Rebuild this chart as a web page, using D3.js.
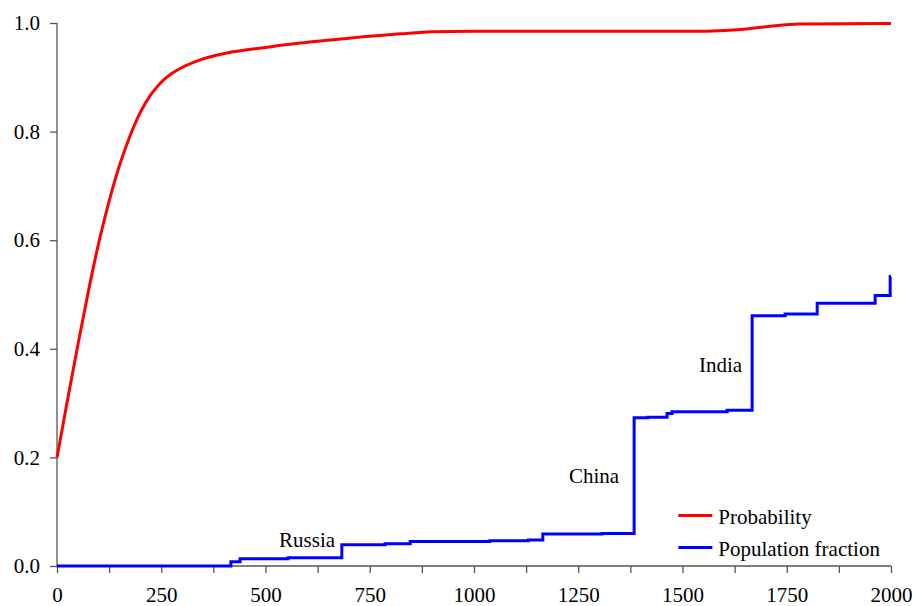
<!DOCTYPE html>
<html>
<head>
<meta charset="utf-8">
<script src="https://cdn.jsdelivr.net/npm/d3@7"></script>
<style>
  body { margin: 0; background: #fff; }
</style>
</head>
<body>
<div class="chart"></div>
<script>
// red curve: probability vs year
var probYears = [0, 25, 50, 75, 100, 125, 150, 175, 200, 225, 250, 275, 300, 343, 422, 500, 583, 700, 823, 900, 1000, 1560, 1620, 1700, 1780, 2000];
var probValues = [0.2, 0.305, 0.407, 0.505, 0.595, 0.672, 0.738, 0.792, 0.836, 0.868, 0.891, 0.907, 0.918, 0.932, 0.947, 0.955, 0.963, 0.972, 0.980, 0.984, 0.985, 0.985, 0.987, 0.993, 0.998, 0.999];

// blue step line: population fraction
var popYears = [0, 417, 439, 554, 683, 787, 847, 1038, 1130, 1165, 1307, 1384, 1417, 1463, 1475, 1607, 1667, 1746, 1823, 1962, 1998, 2000];
var popValues = [0, 0.008, 0.0135, 0.015, 0.039, 0.041, 0.045, 0.0465, 0.048, 0.059, 0.060, 0.273, 0.274, 0.281, 0.284, 0.287, 0.461, 0.464, 0.484, 0.498, 0.533, 0.533];

var xTicks = [0, 125, 250, 375, 500, 625, 750, 875, 1000, 1125, 1250, 1375, 1500, 1625, 1750, 1875, 2000];
var xTickLabels = [0, 250, 500, 750, 1000, 1250, 1500, 1750, 2000];
var yTicks = [0, 0.2, 0.4, 0.6, 0.8, 1.0];

var countryNames = ["Russia", "China", "India"];
var countryYears = [667, 1348, 1643];
var countryValues = [0.035, 0.153, 0.358];

var seriesNames = ["Probability", "Population fraction"];
var seriesColors = ["#ff0000", "#0000ff"];

var fontFamily = '"Liberation Serif", "Times New Roman", serif';

var svgWidth = 914;
var svgHeight = 606;
var margin = { top: 23, right: 23, bottom: 40, left: 57 };
var width = svgWidth - margin.left - margin.right;
var height = svgHeight - margin.top - margin.bottom;

var svg = d3.select(".chart")
    .append("svg")
    .attr("width", svgWidth)
    .attr("height", svgHeight);

var chartGroup = svg.append("g")
    .attr("transform", `translate(${margin.left}, ${margin.top})`);

// scales
var xScale = d3.scaleLinear().domain([0, 2000]).range([0, width]);
var yScale = d3.scaleLinear().domain([0, 1]).range([height, 0]);

// axes
var xAxis = d3.axisBottom(xScale)
    .tickValues(xTicks)
    .tickSize(7)
    .tickPadding(14)
    .tickFormat(d => xTickLabels.indexOf(d) >= 0 ? d : "");
var yAxis = d3.axisLeft(yScale)
    .tickValues(yTicks)
    .tickSize(7)
    .tickPadding(10)
    .tickFormat(d3.format(".1f"));

var xg = chartGroup.append("g")
    .attr("transform", `translate(0, ${height})`)
    .call(xAxis);
var yg = chartGroup.append("g")
    .call(yAxis);

[xg, yg].forEach(function (g) {
    g.select(".domain").attr("stroke", "#555").attr("stroke-width", 1.3);
    g.selectAll(".tick line").attr("stroke", "#555").attr("stroke-width", 1.3);
    g.selectAll(".tick text")
        .attr("fill", "#000")
        .style("font-family", fontFamily)
        .style("font-size", "21px");
});
xg.select(".domain").attr("d", `M0,0H${width}`);
yg.select(".domain").attr("d", `M0,${height}V0`);

// lines
var probData = probYears.map((x, i) => [x, probValues[i]]);
var popData = popYears.map((x, i) => [x, popValues[i]]);

var probLine = d3.line()
    .x(d => xScale(d[0]))
    .y(d => yScale(d[1]))
    .curve(d3.curveMonotoneX);

var popLine = d3.line()
    .x(d => xScale(d[0]))
    .y(d => yScale(d[1]))
    .curve(d3.curveStepAfter);

chartGroup.append("path")
    .datum(popData)
    .attr("d", popLine)
    .attr("fill", "none")
    .attr("stroke", seriesColors[1])
    .attr("stroke-width", 3);

chartGroup.append("path")
    .datum(probData)
    .attr("d", probLine)
    .attr("fill", "none")
    .attr("stroke", seriesColors[0])
    .attr("stroke-width", 3);

// country labels
chartGroup.selectAll(".country")
    .data(countryNames)
    .enter()
    .append("text")
    .attr("class", "country")
    .attr("x", (d, i) => xScale(countryYears[i]))
    .attr("y", (d, i) => yScale(countryValues[i]))
    .attr("text-anchor", "end")
    .attr("fill", "#000")
    .style("font-family", fontFamily)
    .style("font-size", "21px")
    .text(d => d);

// legend
var legend = chartGroup.append("g")
    .attr("transform", `translate(${xScale(1490)}, ${yScale(0.093)})`);

seriesNames.forEach(function (name, i) {
    var row = legend.append("g").attr("transform", `translate(0, ${i * 32})`);
    row.append("line")
        .attr("x1", 0).attr("x2", 34)
        .attr("y1", 0).attr("y2", 0)
        .attr("stroke", seriesColors[i])
        .attr("stroke-width", 3);
    row.append("text")
        .attr("x", 40)
        .attr("y", 8)
        .attr("fill", "#000")
        .style("font-family", fontFamily)
        .style("font-size", "21px")
        .text(name);
});
</script>
</body>
</html>
